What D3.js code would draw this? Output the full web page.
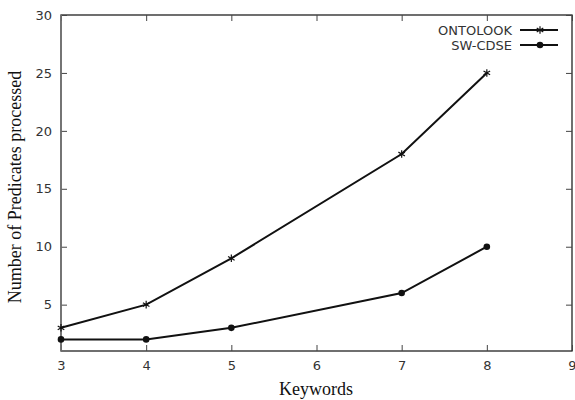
<!DOCTYPE html>
<html>
<head>
<meta charset="utf-8">
<script src="https://cdn.jsdelivr.net/npm/d3@7"></script>
<style>
  body { margin: 0; background: #fff; }
  .tick text { font-family: "DejaVu Sans", sans-serif; font-size: 13px; fill: #333; }
</style>
</head>
<body>
<script>
var width = 575;
var height = 400;
var padding = { left: 61, top: 15, right: 3, bottom: 49 };

var keywords = [3, 4, 5, 7, 8];
var ontolook = [3, 5, 9, 18, 25];
var swcdse = [2, 2, 3, 6, 10];
var xTicks = [3, 4, 5, 6, 7, 8, 9];
var yTicks = [5, 10, 15, 20, 25, 30];

var svg = d3.select('body')
            .append('svg')
            .attr('width', width)
            .attr('height', height);

var xScale = d3.scaleLinear()
                .domain([3, 9])
                .range([padding.left, width - padding.right]);

var yScale = d3.scaleLinear()
                .domain([1, 30])
                .range([height - padding.bottom, padding.top]);

// frame
svg.append('rect')
    .attr('x', padding.left)
    .attr('y', padding.top)
    .attr('width', width - padding.left - padding.right)
    .attr('height', height - padding.top - padding.bottom)
    .attr('fill', 'none')
    .attr('stroke', '#222')
    .attr('stroke-width', 1.3);

function styleAxis(g) {
  g.select('.domain').remove();
  g.selectAll('.tick line').attr('stroke', '#444');
}

svg.append('g')
    .attr('transform', `translate(0,${height - padding.bottom})`)
    .call(d3.axisBottom(xScale).tickValues(xTicks).tickFormat(d3.format('d')).tickSizeInner(-6).tickSizeOuter(0).tickPadding(10))
    .call(styleAxis);

svg.append('g')
    .attr('transform', `translate(0,${padding.top})`)
    .call(d3.axisTop(xScale).tickValues(xTicks).tickSizeInner(-6).tickSizeOuter(0).tickFormat(''))
    .call(styleAxis);

svg.append('g')
    .attr('transform', `translate(${padding.left},0)`)
    .call(d3.axisLeft(yScale).tickValues(yTicks).tickFormat(d3.format('d')).tickSizeInner(-6).tickSizeOuter(0).tickPadding(9))
    .call(styleAxis);

svg.append('g')
    .attr('transform', `translate(${width - padding.right},0)`)
    .call(d3.axisRight(yScale).tickValues(yTicks).tickSizeInner(-6).tickSizeOuter(0).tickFormat(''))
    .call(styleAxis);

// left axis line drawn grey as in the original
svg.append('line')
    .attr('x1', padding.left).attr('x2', padding.left)
    .attr('y1', padding.top).attr('y2', height - padding.bottom)
    .attr('stroke', '#777')
    .attr('stroke-width', 1.5);

var line = d3.line()
              .x(function (d) { return xScale(d[0]); })
              .y(function (d) { return yScale(d[1]); });

var ontoData = keywords.map(function (k, i) { return [k, ontolook[i]]; });
var swData = keywords.map(function (k, i) { return [k, swcdse[i]]; });

svg.append('path')
    .datum(ontoData)
    .attr('d', line)
    .attr('fill', 'none')
    .attr('stroke', '#111')
    .attr('stroke-width', 2);

svg.append('path')
    .datum(swData)
    .attr('d', line)
    .attr('fill', 'none')
    .attr('stroke', '#111')
    .attr('stroke-width', 2);

var star = d3.symbol().type(d3.symbolAsterisk).size(40);

svg.selectAll('.star')
    .data(ontoData)
    .enter()
    .append('path')
    .attr('class', 'star')
    .attr('transform', function (d) { return `translate(${xScale(d[0])},${yScale(d[1])})`; })
    .attr('d', star)
    .attr('fill', 'none')
    .attr('stroke', '#111')
    .attr('stroke-width', 1.2);

svg.selectAll('.dot')
    .data(swData)
    .enter()
    .append('circle')
    .attr('class', 'dot')
    .attr('cx', function (d) { return xScale(d[0]); })
    .attr('cy', function (d) { return yScale(d[1]); })
    .attr('r', 3.3)
    .attr('fill', '#111');

// legend
var legend = svg.append('g');
var legendItems = ['ONTOLOOK', 'SW-CDSE'];
legendItems.forEach(function (name, i) {
  var y = 30 + i * 15;
  legend.append('text')
      .attr('x', 512)
      .attr('y', y)
      .attr('dy', '0.35em')
      .attr('text-anchor', 'end')
      .style('font-family', '"DejaVu Sans", sans-serif')
      .style('font-size', '13px')
      .attr('fill', '#333')
      .text(name);
  legend.append('line')
      .attr('x1', 520).attr('x2', 558)
      .attr('y1', y).attr('y2', y)
      .attr('stroke', '#111')
      .attr('stroke-width', 2);
  if (i === 0) {
    legend.append('path')
        .attr('transform', `translate(540,${y})`)
        .attr('d', star)
        .attr('fill', 'none')
        .attr('stroke', '#111')
        .attr('stroke-width', 1.2);
  } else {
    legend.append('circle')
        .attr('cx', 540).attr('cy', y).attr('r', 3.3)
        .attr('fill', '#111');
  }
});

svg.append('text')
    .attr('x', 316)
    .attr('y', 395)
    .attr('text-anchor', 'middle')
    .style('font-family', '"Liberation Serif", "Times New Roman", serif')
    .style('font-size', '18px')
    .attr('fill', '#111')
    .text('Keywords');

svg.append('text')
    .attr('transform', `translate(21,187) rotate(-90)`)
    .attr('text-anchor', 'middle')
    .style('font-family', '"Liberation Serif", "Times New Roman", serif')
    .style('font-size', '18px')
    .attr('fill', '#111')
    .text('Number of Predicates processed');
</script>
</body>
</html>
